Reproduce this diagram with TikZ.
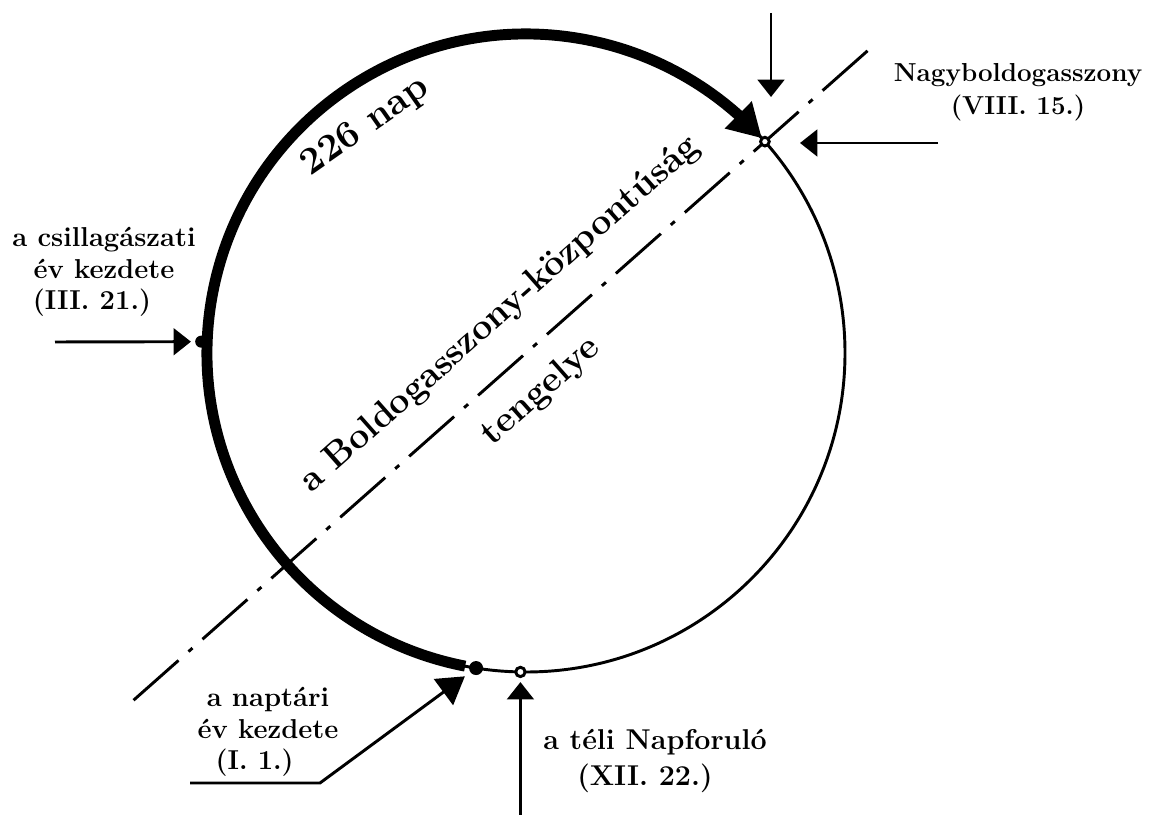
\documentclass[tikz,border=0pt]{standalone}
\usetikzlibrary{arrows.meta,bending,calc}
\begin{document}
\begin{tikzpicture}[x=0.75pt,y=0.75pt,
  lbl/.style={font=\fontsize{20.5}{23.5}\selectfont\bfseries, align=center, inner sep=0pt},
  bigtxt/.style={font=\fontsize{27}{30}\selectfont\bfseries, inner sep=0pt},
  thincirc/.style={line width=2.2pt},
  thickarc/.style={line width=8.2pt},
  axisline/.style={line width=2.2pt, dash pattern=on 45pt off 10pt on 4pt off 10pt},
  pointer/.style={line width=2.2pt, -{Triangle[length=13pt,width=20pt]}},
  ringdot/.style={circle, draw, line width=2.2pt, fill=white, inner sep=0pt, minimum size=6.5pt},
  soliddot/.style={circle, fill, inner sep=0pt, minimum size=10.5pt},
]
\useasboundingbox (0,0) rectangle (1156,824);
\fill[white] (0,0) rectangle (1156,824);
\def\R{319}
\coordinate (C) at (526,471);
% circle and the 226-day arc
\draw[thincirc] (C) circle[radius=\R];
\draw[thickarc, -{Triangle[length=25pt,width=27pt]}] ($(C)+(259:\R)$) arc[start angle=259, end angle=42.3, radius=\R];
% axis
\coordinate (axL) at ($(C)+(221.5:524)$);
\coordinate (axU) at ($(C)+(41.5:467)$);
\draw[axisline] (axL) -- (axU);
% points on the circle
\node[ringdot] (nagy) at ($(C)+(41.5:\R)$) {};
\node[soliddot, minimum size=9pt] (tavasz) at ($(C)+(178:325)$) {};
\node[soliddot] (naptar) at ($(C)+(261:\R)$) {};
\node[ringdot, minimum size=7pt] (tel) at ($(C)+(269:\R)$) {};
% pointers
\coordinate (tavaszStart) at (55,482);
\draw[pointer, shorten >=3pt] (tavaszStart) -- (tavasz);
\coordinate (topStart) at (771,811);
\coordinate (topEnd) at (771,727);
\draw[pointer] (topStart) -- (topEnd);
\coordinate (rightStart) at (938,681);
\coordinate (rightEnd) at (800,681);
\draw[pointer] (rightStart) -- (rightEnd);
\coordinate (napStart) at (190,41);
\coordinate (napBend) at (320,41);
\draw[line width=2.2pt, -{Triangle[length=20pt,width=24pt]}, shorten >=5pt] (napStart) -- (napBend) -- (naptar);
\path (tel) ++(0,-143) coordinate (telStart);
\draw[pointer, shorten >=3pt] (telStart) -- (tel);
% texts
\node[lbl] (csill) at (104,552) {a csillagászati\\év kezdete\\(III. 21.)\hspace*{18pt}};
\node[lbl, font=\fontsize{19.5}{24.5}\selectfont\bfseries] (nagytxt) at (1018,732) {Nagyboldogasszony\\(VIII. 15.)};
\node[lbl] (naptxt) at (268,92) {a naptári\\év kezdete\\(I. 1.)\hspace*{20pt}};
\node[lbl, font=\fontsize{21.5}{27}\selectfont\bfseries] (teltxt) at (655,63) {a téli Napforuló\\(XII. 22.)\hspace*{15pt}};
\node[font=\fontsize{28.5}{30}\selectfont\bfseries, inner sep=0pt, rotate=35] (nap226) at (366,697) {226 nap};
\node[bigtxt, rotate=41.5] (axtxt) at ($(C)+(41.5:6)+(131.5:46)$) {a Boldogasszony-központúság};
\node[bigtxt, rotate=41.5] (teng) at ($(C)+(221.5:14)+(311.5:39)$) {tengelye};
\end{tikzpicture}
\end{document}
